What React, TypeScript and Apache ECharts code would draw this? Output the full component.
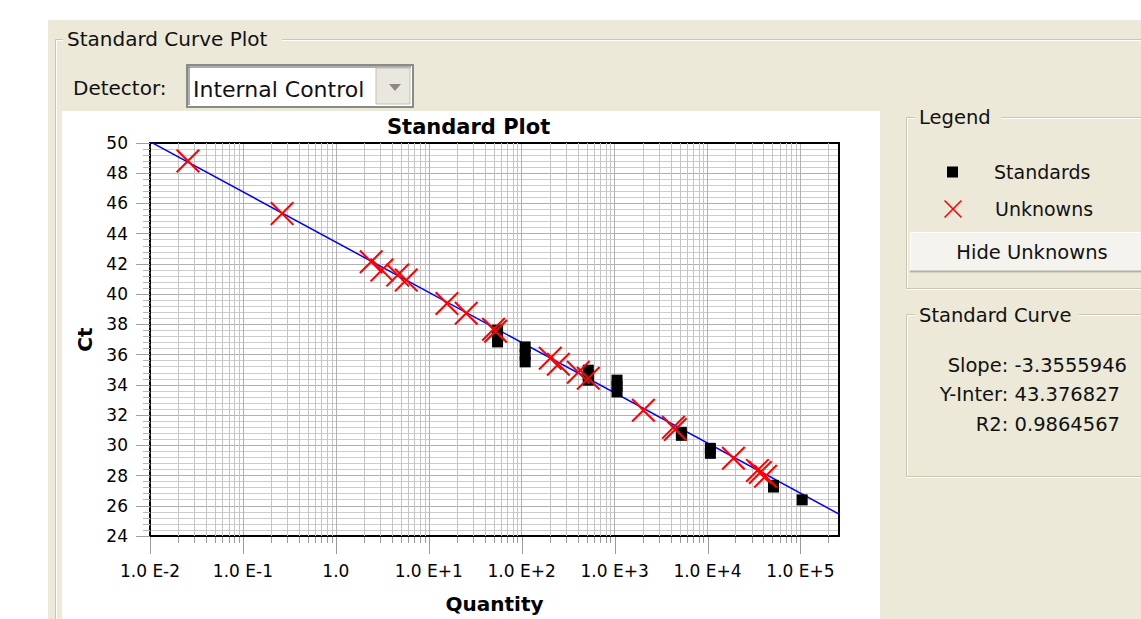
import React, { useEffect, useRef } from 'react';
import * as echarts from 'echarts';

const FONT = 'DejaVu Sans';

// ---- data ----
const standardQuantity = [55, 55, 55, 109, 109, 109, 521, 521, 521, 1062, 1062, 1062, 5236, 5236, 10740, 10740, 51290, 51290, 104400];
const standardCt = [37.62, 37.2, 36.84, 36.51, 36.0, 35.52, 34.97, 34.64, 34.31, 34.31, 33.92, 33.53, 30.86, 30.66, 29.8, 29.47, 27.35, 27.24, 26.39];

const unknownQuantity = [0.0256, 0.264, 2.4, 3.13, 4.63, 5.72, 15.7, 25.3, 49.8, 52.5, 203, 248, 407, 521, 2040, 4295, 4500, 19000, 34450, 37000, 42070];
const unknownCt = [48.81, 45.33, 42.14, 41.59, 41.26, 40.93, 39.38, 38.74, 37.68, 37.55, 35.76, 35.36, 34.83, 34.44, 32.32, 31.19, 31.05, 29.14, 28.34, 28.2, 27.95];

// regression line endpoints (Slope -3.3555946, Y-Inter 43.376827)
const fitQuantity = [0.01, 260000];
const fitCt = [50.09, 25.45];

const xMin = 0.01;
const xMax = 260000;
const yMin = 24;
const yMax = 50;

const decadeTicks = [0.01, 0.1, 1, 10, 100, 1000, 10000, 100000];
const minorMultipliers = [2, 3, 4, 5, 6, 7, 8, 9];

const statLines = ['Slope: -3.3555946', 'Y-Inter: 43.376827', 'R2: 0.9864567'];

const XPATH = 'path://M0,1.2L1.2,0L20,18.8L18.8,20ZM18.8,0L20,1.2L1.2,20L0,18.8Z';

function fmtX(v: number) {
  const l = Math.log10(v);
  const r = Math.round(l);
  if (Math.abs(l - r) > 1e-6) return '';
  if (r === 0) return '1.0';
  return '1.0 E' + (r > 0 ? '+' : '') + r;
}

export default function App() {
  const ref = useRef<HTMLDivElement>(null);

  useEffect(() => {
    if (!ref.current) return;
    const chart = echarts.init(ref.current, undefined, { renderer: 'svg' });

    const tickData: number[][] = [];
    decadeTicks.forEach((d) => {
      tickData.push([d, yMin, 1]);
      minorMultipliers.forEach((m) => {
        const v = d * m;
        if (v <= xMax) tickData.push([v, yMin, 0]);
      });
    });

    const etch = '#c9c6b4';
    const line = (x1: number, y1: number, x2: number, y2: number, stroke: string, w = 1, z = -9) => ({
      type: 'line', z, silent: true,
      shape: { x1, y1, x2, y2 },
      style: { stroke, lineWidth: w },
    });
    const txt = (text: string, x: number, y: number, size: number, align = 'left', extra: any = {}) => ({
      type: 'text', z: 5, silent: true, x, y,
      style: { text, fill: '#111', font: `${size}px "${FONT}"`, textAlign: align, textVerticalAlign: 'middle', ...extra },
    });

    const graphics: any[] = [
      { type: 'rect', z: -10, silent: true, shape: { x: 48, y: 20, width: 1093, height: 599 }, style: { fill: '#ECE9D8' } },
      { type: 'rect', z: -10, silent: true, shape: { x: 62, y: 111, width: 818, height: 508 }, style: { fill: '#ffffff' } },
      // "Standard Curve Plot" group frame
      line(55.5, 39.5, 63, 39.5, etch), line(282, 39.5, 1141, 39.5, etch),
      line(56, 40.5, 63, 40.5, '#fff'), line(282, 40.5, 1141, 40.5, '#fff'),
      line(55.5, 39.5, 55.5, 619, etch), line(56.5, 40.5, 56.5, 619, '#fff'),
      txt('Standard Curve Plot', 67, 39, 20),
      txt('Detector:', 73, 88, 20),
      // combo box
      { type: 'rect', z: -5, silent: true, shape: { x: 187, y: 65, width: 226, height: 42 }, style: { fill: '#fff', stroke: '#8a8a8a', lineWidth: 2 } },
      line(188, 67, 411, 67, '#5a5a5a', 1, -4), line(189, 67, 189, 105, '#5a5a5a', 1, -4),
      txt('Internal Control', 193, 89, 22),
      { type: 'rect', z: -3, silent: true, shape: { x: 376, y: 68, width: 34, height: 36 }, style: { fill: '#e9e7de', stroke: '#c4c1b3', lineWidth: 1 } },
      { type: 'polygon', z: -2, silent: true, shape: { points: [[389, 84], [401, 84], [395, 91]] }, style: { fill: '#8a8a8a' } },
      // Legend group
      line(906.5, 117.5, 915, 117.5, etch), line(1001, 117.5, 1141, 117.5, etch),
      line(907, 118.5, 915, 118.5, '#fff'), line(1001, 118.5, 1141, 118.5, '#fff'),
      line(906.5, 117.5, 906.5, 288.5, etch), line(907.5, 118.5, 907.5, 287.5, '#fff'),
      line(906.5, 288.5, 1141, 288.5, etch), line(906.5, 289.5, 1141, 289.5, '#fff'),
      txt('Legend', 919, 117, 19.5),
      { type: 'rect', z: -5, silent: true, shape: { x: 910, y: 232, width: 240, height: 41 }, style: { fill: '#f4f3ee' } },
      line(910, 232.5, 1141, 232.5, '#ffffff', 1, -4), line(910.5, 232, 910.5, 272, '#ffffff', 1, -4),
      line(910, 271.5, 1141, 271.5, '#b3b09f', 2, -4),
      txt('Hide Unknowns', 1032, 252, 19.5, 'center'),
      // Standard Curve group
      line(906.5, 314.5, 915, 314.5, etch), line(1079, 314.5, 1141, 314.5, etch),
      line(907, 315.5, 915, 315.5, '#fff'), line(1079, 315.5, 1141, 315.5, '#fff'),
      line(906.5, 314.5, 906.5, 476.5, etch), line(907.5, 315.5, 907.5, 475.5, '#fff'),
      line(906.5, 476.5, 1141, 476.5, etch), line(906.5, 477.5, 1141, 477.5, '#fff'),
      txt('Standard Curve', 919, 315, 19.5),
      txt(statLines[0], 1127, 365, 19.5, 'right'),
      txt(statLines[1], 1120, 394, 19.5, 'right'),
      txt(statLines[2], 1120, 424, 19.5, 'right'),
    ];

    const option: any = {
      animation: false,
      textStyle: { fontFamily: FONT },
      title: {
        text: 'Standard Plot', left: 387, top: 116, padding: 0,
        textStyle: { fontFamily: FONT, fontWeight: 'bold', fontSize: 21, color: '#000' },
      },
      legend: [
        {
          data: [{ name: 'Standards', icon: 'rect' }], left: 947, top: 162, padding: 0,
          itemWidth: 11, itemHeight: 11, selectedMode: false,
          textStyle: { fontFamily: FONT, fontSize: 19, color: '#111', lineHeight: 20, padding: [0, 0, 0, 31] },
        },
        {
          data: [{ name: 'Unknowns', icon: XPATH }], left: 944, top: 199, padding: 0,
          itemWidth: 18, itemHeight: 18, selectedMode: false,
          textStyle: { fontFamily: FONT, fontSize: 19, color: '#111', lineHeight: 20, padding: [0, 0, 0, 28] },
        },
      ],
      grid: { left: 150, top: 143, width: 689, height: 393, containLabel: false },
      xAxis: [
        {
          type: 'log', logBase: 10, min: xMin, max: xMax, splitNumber: 8,
          axisLine: { show: true, onZero: false, lineStyle: { color: '#000', width: 2 } },
          axisTick: { show: false },
          axisLabel: { interval: 0, margin: 26, fontFamily: FONT, fontSize: 17, color: '#000', formatter: fmtX },
          splitLine: { show: true, lineStyle: { color: '#b0b0b0', width: 1 } },
          minorTick: { show: false }, minorSplitLine: { show: false },
          name: 'Quantity', nameLocation: 'middle', nameGap: 58,
          nameTextStyle: { fontFamily: FONT, fontWeight: 'bold', fontSize: 20, color: '#000' },
        },
        {
          type: 'log', logBase: 10, min: xMin, max: xMax, position: 'top', splitNumber: 8,
          axisLine: { show: true, onZero: false, lineStyle: { color: '#000', width: 2 } },
          axisTick: { show: false }, axisLabel: { show: false }, splitLine: { show: false },
        },
      ],
      yAxis: [
        {
          type: 'value', min: yMin, max: yMax, interval: 2,
          axisLine: { show: true, onZero: false, lineStyle: { color: '#000', width: 2, type: [4, 2] } },
          axisTick: { show: true, length: 14, lineStyle: { color: '#a0a0a0' } },
          minorTick: { show: true, splitNumber: 5, length: 7, lineStyle: { color: '#b8b8b8' } },
          axisLabel: { margin: 22, fontFamily: FONT, fontSize: 17, color: '#000' },
          splitLine: { show: true, lineStyle: { color: '#b0b0b0' } },
          minorSplitLine: { show: true, lineStyle: { color: '#cdcdcd' } },
          name: 'Ct', nameLocation: 'middle', nameGap: 50,
          nameTextStyle: { fontFamily: FONT, fontWeight: 'bold', fontSize: 20, color: '#000' },
        },
        {
          type: 'value', min: yMin, max: yMax, interval: 2, position: 'right',
          axisLine: { show: true, onZero: false, lineStyle: { color: '#000', width: 2 } },
          axisTick: { show: false }, axisLabel: { show: false }, splitLine: { show: false },
        },
      ],
      graphic: graphics,
      series: [
        {
          type: 'custom', name: 'ticks', silent: true, clip: false, z: 1,
          encode: { x: 0, y: 1 },
          data: tickData,
          renderItem: (params: any, api: any) => {
            const v = api.value(0);
            const major = api.value(2) === 1;
            const base = api.coord([v, yMin]);
            const top = api.coord([v, yMax]);
            const x = Math.round(base[0]) + 0.5;
            const children: any[] = [];
            if (!major) {
              children.push({ type: 'line', shape: { x1: x, y1: top[1], x2: x, y2: base[1] }, style: { stroke: '#c4c4c4', lineWidth: 1 } });
            }
            children.push({ type: 'line', shape: { x1: x, y1: base[1] + 1, x2: x, y2: base[1] + (major ? 18 : 7) }, style: { stroke: '#9a9a9a', lineWidth: 1 } });
            return { type: 'group', children };
          },
        },
        {
          type: 'line', name: 'Fit', showSymbol: false, z: 3, silent: true,
          data: fitQuantity.map((q, i) => [q, fitCt[i]]),
          lineStyle: { color: '#0000ff', width: 1.5 },
        },
        {
          type: 'scatter', name: 'Standards', z: 4, symbol: 'rect', symbolSize: 11,
          data: standardQuantity.map((q, i) => [q, standardCt[i]]),
          itemStyle: { color: '#000000', opacity: 1 },
        },
        {
          type: 'scatter', name: 'Unknowns', z: 5, symbol: XPATH, symbolSize: 24,
          data: unknownQuantity.map((q, i) => [q, unknownCt[i]]),
          itemStyle: { color: '#ff0000', opacity: 1 },
        },
      ],
    };

    chart.setOption(option);
    return () => chart.dispose();
  }, []);

  return <div ref={ref} style={{ position: 'absolute', left: 0, top: 0, width: 1141, height: 619, background: '#fff' }} />;
}
